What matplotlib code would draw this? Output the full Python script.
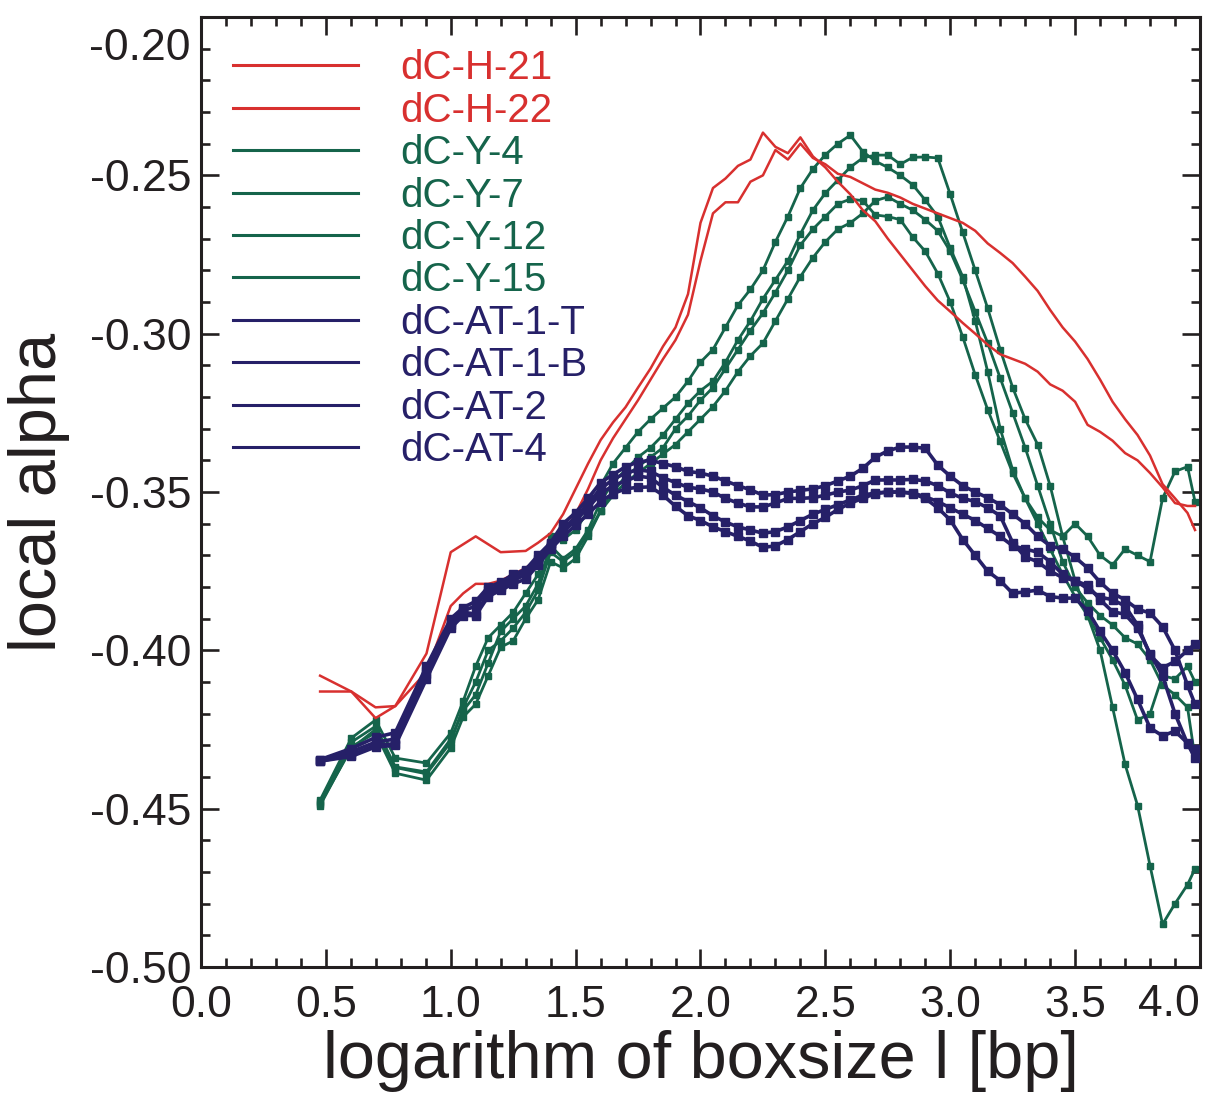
"""
local alpha against the logarithm of the box size
"""

import matplotlib
matplotlib.use('Agg')
import matplotlib.pyplot as plt
from matplotlib.lines import Line2D
from matplotlib.ticker import MultipleLocator

plt.rcParams['font.family'] = ['Liberation Sans', 'DejaVu Sans']

# log10 of the box size
x = [0.477, 0.602, 0.699, 0.778, 0.903,
     1.00, 1.05, 1.10, 1.15, 1.20, 1.25, 1.30, 1.35, 1.40, 1.45,
     1.50, 1.55, 1.60, 1.65, 1.70, 1.75, 1.80, 1.85, 1.90, 1.95,
     2.00, 2.05, 2.10, 2.15, 2.20, 2.25, 2.30, 2.35, 2.40, 2.45,
     2.50, 2.55, 2.60, 2.65, 2.70, 2.75, 2.80, 2.85, 2.90, 2.95,
     3.00, 3.05, 3.10, 3.15, 3.20, 3.25, 3.30, 3.35, 3.40, 3.45,
     3.50, 3.55, 3.60, 3.65, 3.70, 3.75, 3.80, 3.85, 3.90, 3.95, 3.98]

h21 = [-0.408, -0.413, -0.418, -0.4176, -0.401,
       -0.369, -0.3665, -0.364, -0.3665, -0.369, -0.3688, -0.3686, -0.366, -0.363, -0.357,
       -0.349, -0.341, -0.3336, -0.328, -0.3232, -0.317, -0.311, -0.304, -0.298, -0.2875,
       -0.265, -0.254, -0.251, -0.247, -0.245, -0.2365, -0.241, -0.243, -0.238, -0.244,
       -0.2475, -0.252, -0.256, -0.261, -0.2645, -0.270, -0.275, -0.280, -0.285, -0.2895,
       -0.293, -0.2966, -0.300, -0.3035, -0.3065, -0.308, -0.3095, -0.312, -0.316, -0.318,
       -0.3215, -0.3288, -0.331, -0.3338, -0.3377, -0.340, -0.344, -0.3485, -0.3535, -0.3544, -0.3544]

h22 = [-0.413, -0.413, -0.4214, -0.4176, -0.4068,
       -0.386, -0.382, -0.379, -0.379, -0.378, -0.376, -0.374, -0.371, -0.367, -0.363,
       -0.357, -0.349, -0.340, -0.333, -0.327, -0.321, -0.3145, -0.308, -0.302, -0.294,
       -0.277, -0.262, -0.2585, -0.2585, -0.252, -0.250, -0.242, -0.245, -0.240, -0.2445,
       -0.2465, -0.2495, -0.2505, -0.2525, -0.2545, -0.2555, -0.257, -0.259, -0.2605, -0.262,
       -0.2635, -0.265, -0.2675, -0.2715, -0.2745, -0.2777, -0.282, -0.2865, -0.2925, -0.298,
       -0.3025, -0.308, -0.3145, -0.3215, -0.327, -0.332, -0.3385, -0.3475, -0.352, -0.3566, -0.362]

y4 = [-0.4473, -0.4277, -0.422, -0.434, -0.4356,
      -0.4261, -0.416, -0.405, -0.396, -0.392, -0.388, -0.382, -0.376, -0.364, -0.365,
      -0.362, -0.356, -0.348, -0.341, -0.336, -0.331, -0.327, -0.3235, -0.320, -0.315,
      -0.309, -0.305, -0.298, -0.291, -0.286, -0.280, -0.271, -0.263, -0.254, -0.248,
      -0.2435, -0.240, -0.2373, -0.2425, -0.2455, -0.2475, -0.250, -0.253, -0.2578, -0.263,
      -0.273, -0.282, -0.296, -0.312, -0.330, -0.343, -0.352, -0.358, -0.362, -0.364,
      -0.360, -0.364, -0.370, -0.373, -0.368, -0.370, -0.372, -0.352, -0.3435, -0.342, -0.353]

y7 = [-0.448, -0.429, -0.424, -0.4368, -0.4384,
      -0.428, -0.419, -0.414, -0.404, -0.394, -0.390, -0.386, -0.379, -0.367, -0.371,
      -0.368, -0.362, -0.353, -0.347, -0.343, -0.339, -0.336, -0.332, -0.327, -0.322,
      -0.318, -0.315, -0.309, -0.302, -0.296, -0.289, -0.283, -0.277, -0.2685, -0.261,
      -0.2556, -0.2515, -0.2474, -0.2445, -0.2436, -0.2436, -0.2465, -0.2443, -0.2442, -0.2445,
      -0.256, -0.268, -0.280, -0.292, -0.305, -0.317, -0.327, -0.335, -0.348, -0.364,
      -0.378, -0.389, -0.400, -0.418, -0.436, -0.449, -0.468, -0.4865, -0.480, -0.474, -0.469]

y12 = [-0.449, -0.4305, -0.426, -0.4388, -0.441,
       -0.4308, -0.421, -0.417, -0.408, -0.399, -0.397, -0.390, -0.384, -0.372, -0.374,
       -0.371, -0.364, -0.356, -0.350, -0.345, -0.342, -0.339, -0.336, -0.330, -0.326,
       -0.321, -0.317, -0.311, -0.305, -0.299, -0.2935, -0.287, -0.280, -0.272, -0.267,
       -0.263, -0.259, -0.2575, -0.258, -0.2625, -0.263, -0.264, -0.2695, -0.274, -0.281,
       -0.290, -0.301, -0.313, -0.324, -0.334, -0.344, -0.352, -0.360, -0.368, -0.376,
       -0.383, -0.389, -0.396, -0.403, -0.411, -0.422, -0.420, -0.408, -0.409, -0.405, -0.410]

y15 = [-0.4485, -0.431, -0.425, -0.437, -0.439,
       -0.429, -0.418, -0.410, -0.400, -0.397, -0.393, -0.388, -0.381, -0.369, -0.372,
       -0.369, -0.363, -0.356, -0.351, -0.347, -0.344, -0.341, -0.338, -0.335, -0.331,
       -0.327, -0.323, -0.318, -0.312, -0.307, -0.303, -0.296, -0.289, -0.282, -0.276,
       -0.271, -0.267, -0.265, -0.262, -0.258, -0.2568, -0.259, -0.261, -0.264, -0.2675,
       -0.274, -0.283, -0.293, -0.303, -0.314, -0.325, -0.336, -0.348, -0.360, -0.372,
       -0.380, -0.385, -0.389, -0.392, -0.396, -0.398, -0.403, -0.411, -0.414, -0.418, -0.434]

at1t = [-0.4345, -0.431, -0.4275, -0.426, -0.405,
        -0.390, -0.3865, -0.3845, -0.380, -0.3785, -0.376, -0.3745, -0.370, -0.366, -0.360,
        -0.3565, -0.352, -0.347, -0.3445, -0.342, -0.3405, -0.340, -0.341, -0.342, -0.3435,
        -0.344, -0.345, -0.3465, -0.348, -0.3493, -0.351, -0.3508, -0.350, -0.3495, -0.349,
        -0.348, -0.3465, -0.345, -0.3425, -0.339, -0.337, -0.3358, -0.3358, -0.3362, -0.3415,
        -0.345, -0.348, -0.350, -0.3518, -0.354, -0.357, -0.360, -0.364, -0.367, -0.368,
        -0.3706, -0.374, -0.3785, -0.382, -0.384, -0.387, -0.3882, -0.3925, -0.400, -0.411, -0.417]

at1b = [-0.4345, -0.432, -0.429, -0.428, -0.4065,
        -0.391, -0.3875, -0.386, -0.381, -0.3795, -0.377, -0.375, -0.371, -0.3665, -0.3615,
        -0.358, -0.3535, -0.349, -0.346, -0.344, -0.343, -0.3435, -0.3455, -0.347, -0.3485,
        -0.349, -0.350, -0.352, -0.3535, -0.3547, -0.3547, -0.3535, -0.352, -0.352, -0.3518,
        -0.351, -0.350, -0.3494, -0.348, -0.3462, -0.3462, -0.3462, -0.346, -0.3465, -0.348,
        -0.3503, -0.352, -0.353, -0.355, -0.3575, -0.366, -0.3705, -0.372, -0.375, -0.377,
        -0.378, -0.3795, -0.384, -0.3878, -0.3886, -0.393, -0.401, -0.408, -0.420, -0.4295, -0.434]

at2 = [-0.435, -0.433, -0.430, -0.4295, -0.4075,
       -0.392, -0.388, -0.3885, -0.382, -0.380, -0.378, -0.376, -0.372, -0.367, -0.3625,
       -0.359, -0.355, -0.3505, -0.348, -0.3465, -0.345, -0.3455, -0.3485, -0.351, -0.353,
       -0.355, -0.3575, -0.3595, -0.361, -0.362, -0.363, -0.3625, -0.361, -0.359, -0.357,
       -0.3555, -0.354, -0.3525, -0.351, -0.3503, -0.350, -0.350, -0.3503, -0.3515, -0.353,
       -0.355, -0.357, -0.359, -0.3615, -0.364, -0.367, -0.368, -0.369, -0.372, -0.376,
       -0.378, -0.3805, -0.3832, -0.384, -0.386, -0.392, -0.4015, -0.4055, -0.4035, -0.400, -0.398]

at4 = [-0.435, -0.4335, -0.4305, -0.430, -0.409,
       -0.393, -0.389, -0.389, -0.383, -0.381, -0.379, -0.3775, -0.373, -0.368, -0.364,
       -0.3605, -0.357, -0.353, -0.3505, -0.349, -0.3485, -0.3484, -0.351, -0.3545, -0.3575,
       -0.359, -0.361, -0.3625, -0.364, -0.3655, -0.3675, -0.367, -0.365, -0.3625, -0.360,
       -0.358, -0.3555, -0.3535, -0.352, -0.3505, -0.350, -0.350, -0.3505, -0.352, -0.355,
       -0.3588, -0.365, -0.370, -0.375, -0.378, -0.382, -0.3815, -0.381, -0.383, -0.3835,
       -0.3835, -0.3875, -0.394, -0.400, -0.407, -0.4155, -0.4245, -0.427, -0.4255, -0.4293, -0.431]

names = ['dC-H-21', 'dC-H-22', 'dC-Y-4', 'dC-Y-7', 'dC-Y-12', 'dC-Y-15',
         'dC-AT-1-T', 'dC-AT-1-B', 'dC-AT-2', 'dC-AT-4']

red = '#d8302f'
green = '#15644b'
navy = '#262068'
ink = '#231f20'

fig = plt.figure(figsize=(12.07, 10.99), dpi=100)
ax = fig.add_axes([0.1665, 0.1201, 0.8277, 0.8644])

# green curves with small squares
for s in [y4, y7, y12, y15]:
    ax.plot(x, s, '-s', color=green, lw=2.0, ms=4.5, mec=green, zorder=2)
# red curves, plain lines
for s in [h21, h22]:
    ax.plot(x, s, '-', color=red, lw=1.8, zorder=3)
# navy curves with bigger squares
for s in [at1t, at1b, at2, at4]:
    ax.plot(x, s, '-s', color=navy, lw=2.6, ms=5.5, mec=navy, zorder=4)

ax.set_xlim(0.0, 4.0)
ax.set_ylim(-0.50, -0.20)

xt = [0.0, 0.5, 1.0, 1.5, 2.0, 2.5, 3.0, 3.5, 4.0]
yt = [-0.50, -0.45, -0.40, -0.35, -0.30, -0.25, -0.20]
ax.set_xticks(xt, labels=['%.1f' % v for v in xt[:-1]] + [''])
ax.set_yticks(yt, labels=['%.2f' % v for v in yt[:-1]] + [''])
ax.xaxis.set_minor_locator(MultipleLocator(0.1))
ax.yaxis.set_minor_locator(MultipleLocator(0.01))
ax.tick_params(which='both', direction='in', top=True, right=True,
               width=1.9, color=ink, labelsize=32, labelcolor=ink)
ax.tick_params(which='major', length=13)
ax.tick_params(which='minor', length=6.5)
ax.tick_params(axis='x', pad=13)
ax.tick_params(axis='y', pad=7)

# edge labels moved inwards, as in the original
ax.annotate('-0.20', xy=(0, -0.20), xycoords=('axes fraction', 'data'),
            xytext=(-10, -31), textcoords='offset pixels',
            ha='right', va='center', fontsize=32, color=ink)
ax.annotate('4.0', xy=(4.0, 0), xycoords=('data', 'axes fraction'),
            xytext=(-31, -17), textcoords='offset pixels',
            ha='center', va='top', fontsize=32, color=ink)

for sp in ax.spines.values():
    sp.set_linewidth(2.2)
    sp.set_color(ink)

ax.set_xlabel('logarithm of boxsize l [bp]', fontsize=48, color=ink, labelpad=3)
ax.set_ylabel('local alpha', fontsize=48, color=ink, labelpad=14)

cols = [red] * 2 + [green] * 4 + [navy] * 4
handles = [Line2D([], [], color=c, lw=2.2) for c in cols]
leg = ax.legend(handles, names, loc='upper left', bbox_to_anchor=(0.032, 0.966),
                frameon=False, fontsize=29, handlelength=3.1, handletextpad=1.05,
                labelspacing=0.11, borderpad=0, borderaxespad=0)
for t, c in zip(leg.get_texts(), cols):
    t.set_color(c)

fig.savefig('out.png', dpi=100)
